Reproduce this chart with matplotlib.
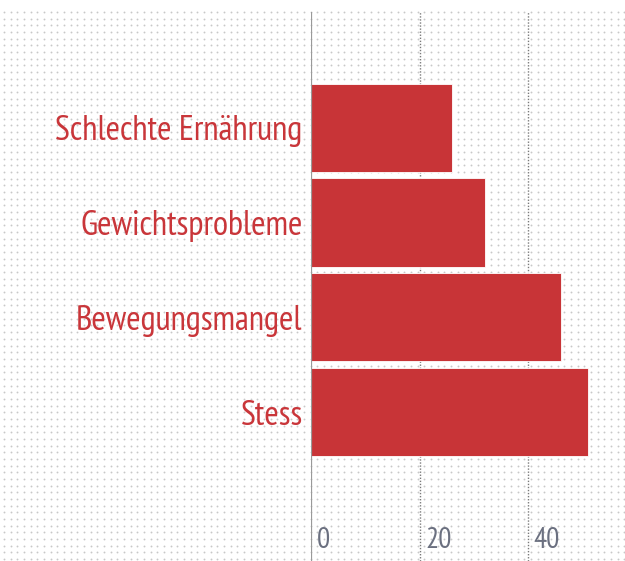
import matplotlib.pyplot as plt
import numpy as np

categories = ['Stess', 'Bewegungsmangel', 'Gewichtsprobleme', 'Schlechte Ernährung']
values = [51, 46, 32, 26]
xticks = [0, 20, 40]

plt.rcParams['font.family'] = ['PT Sans Narrow', 'Roboto Condensed', 'DejaVu Sans']

W, H = 625, 561
fig = plt.figure(figsize=(W / 100, H / 100), dpi=100)

# dotted paper background
bg = fig.add_axes([0, 0, 1, 1], zorder=0)
bg.set_xlim(0, W)
bg.set_ylim(H, 0)
bg.axis('off')
gx, gy = np.meshgrid(np.arange(4, W, 6.67), np.arange(12, H - 2, 6.67))
bg.scatter(gx.ravel(), gy.ravel(), s=1.8, color='#c8c8c8', linewidths=0)

ax = fig.add_axes([311 / W, 0, (621 - 311) / W, (H - 12) / H], zorder=1)
ax.patch.set_alpha(0)
ax.set_xlim(0, (621 - 311) / 5.43)
ax.set_ylim(-1.57, 4.22)

y = np.arange(len(categories))
ax.barh(y, values, height=0.93, color='#c83437', edgecolor='white', linewidth=0.6, zorder=3)

for v in xticks[1:]:
    ax.axvline(v, color='#7a7a7a', linestyle=(0, (1, 1.2)), linewidth=1, zorder=2)
ax.axvline(0, color='#9a9a9a', linewidth=1.6, zorder=4)

for v in xticks:
    ax.text(v + 1.0, -1.5, str(v), color='#6b7080', fontsize=21, ha='left', va='bottom')

for s in ax.spines.values():
    s.set_visible(False)
ax.set_xticks([])
ax.set_yticks(y)
ax.set_yticklabels(categories, color='#c9363a', fontsize=25)
ax.tick_params(axis='y', length=0, pad=6)

fig.savefig('out.png', dpi=100)
